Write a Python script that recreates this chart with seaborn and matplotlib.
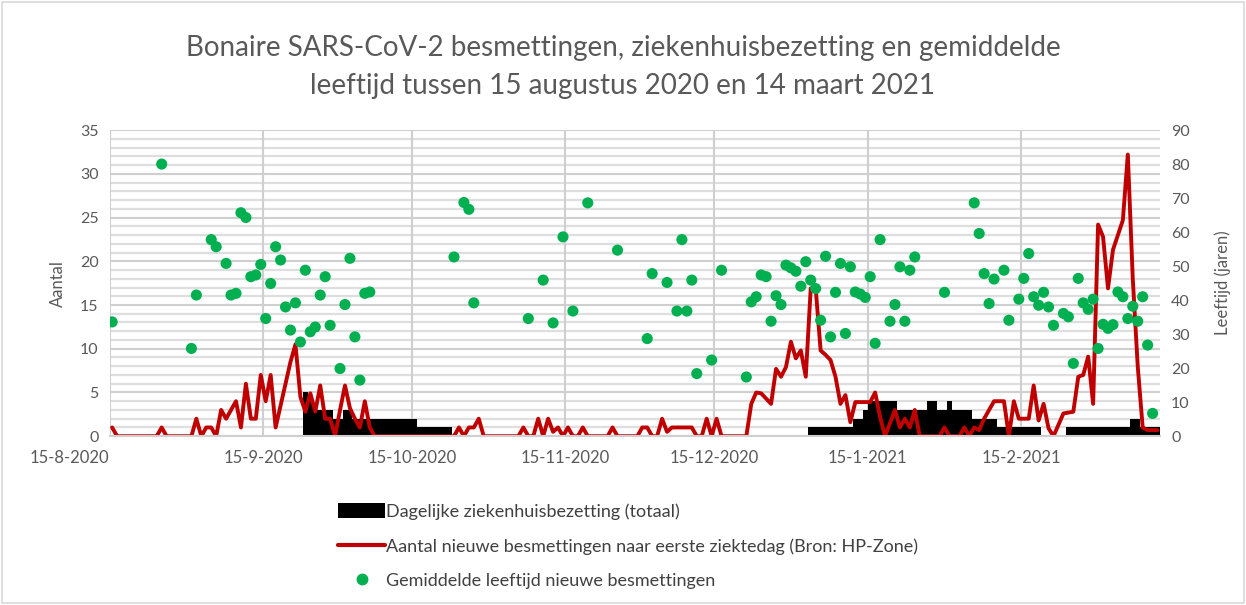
import pandas as pd
import seaborn as sns
from matplotlib import pyplot as plt
from matplotlib.lines import Line2D
from matplotlib.patches import Patch, Rectangle

# day 0 = 15-8-2020, day 211 = 14-3-2021
n_days = 212

# Aantal nieuwe besmettingen naar eerste ziektedag (per dag)
besmettingen = [
    1, 0, 0, 0, 0, 0, 0, 0, 0, 0,
    1, 0, 0, 0, 0, 0, 0, 2, 0, 1,
    1, 0, 3, 2, 3, 4, 1, 6, 2, 2,
    7, 4, 7, 1, 3.5, 6, 8.5, 10.5, 4.5, 2.8,
    4.9, 2.8, 5.8, 2, 2, 0, 3, 5.8, 3.2, 2,
    1, 4, 1, 0, 0, 0, 0, 0, 0, 0,
    0, 0, 0, 0, 0, 0, 0, 0, 0, 0,
    1, 0, 1, 1, 2, 0, 0, 0, 0, 0,
    0, 0, 0, 1, 0, 0, 2, 0, 2, 0.5,
    1, 0, 1, 0, 0, 1, 0, 0, 0, 0,
    0, 1, 0, 0, 0, 0, 0, 1, 1, 0,
    0, 2, 0.5, 1, 1, 1, 1, 1, 0, 0,
    2, 0, 2, 0, 0, 0, 0, 0, 0, 3.7,
    5, 4.9, 4.3, 3.7, 7.7, 6.8, 7.9, 10.8, 8.9, 9.8,
    6.8, 16.9, 16.9, 9.8, 9.3, 8.7, 6.8, 3.7, 4.7, 1.6,
    3.9, 3.9, 3.9, 3.9, 5, 2.2, 0, 1.5, 3, 1,
    2, 1, 3, 0, 0, 0, 0, 0, 1, 0,
    0, 0, 1, 0, 1, 0.7, 2, 3, 4, 4,
    4, 0, 4, 2, 2, 2, 5.8, 1.8, 3.7, 0.9,
    0, 1.3, 2.6, 2.7, 2.8, 6.8, 7, 9.1, 3.7, 24.2,
    22.8, 16.9, 21.3, 23, 24.7, 32.2, 18, 8, 1, 0.7,
    0.7, 0.7,
]

# Dagelijkse ziekenhuisbezetting (totaal)
bezetting = [
    0, 0, 0, 0, 0, 0, 0, 0, 0, 0,
    0, 0, 0, 0, 0, 0, 0, 0, 0, 0,
    0, 0, 0, 0, 0, 0, 0, 0, 0, 0,
    0, 0, 0, 0, 0, 0, 0, 0, 0, 5,
    4, 3, 3, 3, 3, 2, 2, 3, 3, 2,
    2, 2, 2, 2, 2, 2, 2, 2, 2, 2,
    2, 2, 1, 1, 1, 1, 1, 1, 1, 0,
    0, 0, 0, 0, 0, 0, 0, 0, 0, 0,
    0, 0, 0, 0, 0, 0, 0, 0, 0, 0,
    0, 0, 0, 0, 0, 0, 0, 0, 0, 0,
    0, 0, 0, 0, 0, 0, 0, 0, 0, 0,
    0, 0, 0, 0, 0, 0, 0, 0, 0, 0,
    0, 0, 0, 0, 0, 0, 0, 0, 0, 0,
    0, 0, 0, 0, 0, 0, 0, 0, 0, 0,
    0, 1, 1, 1, 1, 1, 1, 1, 1, 1,
    2, 2, 3, 4, 4, 4, 4, 4, 4, 3,
    3, 3, 3, 3, 3, 4, 4, 3, 3, 4,
    3, 3, 3, 3, 2, 2, 2, 2, 2, 1,
    1, 1, 1, 1, 1, 1, 1, 1, 0, 0,
    0, 0, 0, 1, 1, 1, 1, 1, 1, 1,
    1, 1, 1, 1, 1, 1, 2, 2, 1, 1,
    1, 1,
]

# Gemiddelde leeftijd nieuwe besmettingen (dag, leeftijd)
leeftijd_dag = [
    0, 10, 16, 17, 20, 21, 23, 24, 25, 26, 27, 28, 29, 30, 31, 32, 33, 34,
    35, 36, 37, 38, 39, 40, 41, 42, 43, 44, 46, 47, 48, 49, 50, 51, 52,
    69, 71, 72, 73, 84, 87, 89, 91, 93, 96, 102, 108, 109, 112, 114, 115,
    116, 117, 118, 121, 123, 128, 129, 130, 131, 132, 133, 134, 135, 136,
    137, 138, 139, 140, 141, 142, 143, 144, 145, 146, 147, 148, 149, 150,
    151, 152, 153, 154, 155, 157, 158, 159, 160, 161, 162, 168, 174, 175,
    176, 177, 178, 180, 181, 183, 184, 185, 186, 187, 188, 189, 190, 192,
    193, 194, 195, 196, 197, 198, 199, 200, 201, 202, 203, 204, 205, 206,
    207, 208, 209, 210,
]
leeftijd = [
    33.6, 80, 25.8, 41.5, 57.8, 55.7, 50.8, 41.5, 42, 65.7, 64.3, 46.9, 47.4,
    50.5, 34.6, 44.9, 55.7, 51.8, 38, 31.2, 39.2, 27.7, 48.8, 30.7, 32.1,
    41.5, 46.9, 32.6, 19.9, 38.7, 52.3, 29.2, 16.5, 42, 42.4,
    52.7, 68.7, 66.7, 39.2, 34.6, 45.9, 33.3, 58.6, 36.8, 68.6, 54.7, 28.7,
    47.8, 45.2, 36.8, 57.8, 36.8, 45.9, 18.4, 22.4, 48.8, 17.4, 39.5, 41,
    47.4, 46.9, 33.8, 41.3, 38.7, 50.3, 49.5, 48.5, 44.1, 51.3, 45.9, 43.4,
    34.1, 52.9, 29.2, 42.3, 50.8, 30.2, 49.8, 42.4, 41.8, 40.8, 46.9, 27.3,
    57.8, 33.8, 38.7, 49.8, 33.8, 48.8, 52.7, 42.3, 68.6, 59.6, 47.8, 39,
    46.2, 48.8, 34.1, 40.3, 46.4, 53.7, 41, 38.5, 42.3, 38, 32.6, 36.1, 35.1,
    21.4, 46.4, 39.2, 37.3, 40.3, 25.8, 32.9, 31.7, 32.8, 42.4, 41, 34.6,
    38.2, 33.8, 41, 26.8, 6.7,
]

tick_days = [0, 31, 61, 92, 122, 153, 184]
tick_labels = ["15-8-2020", "15-9-2020", "15-10-2020", "15-11-2020",
               "15-12-2020", "15-1-2021", "15-2-2021"]

title = ("Bonaire SARS-CoV-2 besmettingen, ziekenhuisbezetting en gemiddelde\n"
         "leeftijd tussen 15 augustus 2020 en 14 maart 2021")
labels = [
    "Dagelijke ziekenhuisbezetting (totaal)",
    "Aantal nieuwe besmettingen naar eerste ziektedag (Bron: HP-Zone)",
    "Gemiddelde leeftijd nieuwe besmettingen",
]

grey = "#595959"
grid_col = "#d9d9d9"
red = "#c00000"
green = "#00b050"

sns.set_theme(style="white")
plt.rcParams["font.family"] = ["Lato", "DejaVu Sans"]

df = pd.DataFrame({"dag": range(n_days), "besmettingen": besmettingen,
                   "bezetting": bezetting})
# Excel puts each day in the middle of its slot
df["x"] = df["dag"] + 0.5
dots = pd.DataFrame({"x": [d + 0.5 for d in leeftijd_dag], "leeftijd": leeftijd})

fig = plt.figure(figsize=(12.46, 6.05), dpi=100)
ax = fig.add_axes([0.088, 0.279, 0.843, 0.506])

# light helper lines at every unit, darker ones every 5
minor_levels = [v for v in range(1, 35) if v % 5]
ax.hlines(minor_levels, 0, n_days, color="#dedede", lw=1.6, zorder=0)

sns.barplot(data=df, x="x", y="bezetting", native_scale=True, width=1,
            color="black", saturation=1, errorbar=None, linewidth=0, ax=ax)
sns.lineplot(data=df, x="x", y="besmettingen", color=red, lw=2.8, ax=ax)

ax2 = ax.twinx()
sns.scatterplot(data=dots, x="x", y="leeftijd", color=green, s=64,
                edgecolor="none", ax=ax2, zorder=3)

ax.set_xlim(0, n_days)
ax.set_ylim(0, 35)
ax2.set_ylim(0, 90)

ax.set_yticks(range(0, 36, 5))
ax2.set_yticks(range(0, 91, 10))
ax.set_xticks(tick_days)
ax.set_xticklabels(tick_labels)
ax.get_xticklabels()[0].set_horizontalalignment("right")

ax.set_axisbelow(True)
ax.grid(which="major", axis="both", color="#cfcfcf", lw=1.5)

for a in (ax, ax2):
    for s in a.spines.values():
        s.set_visible(False)
ax.spines["bottom"].set_visible(True)
ax.spines["bottom"].set_color("#cfcfcf")
ax.spines["bottom"].set_linewidth(1.5)

ax.tick_params(axis="x", length=6, width=1.5, color="#cfcfcf", labelcolor=grey,
               labelsize=12, pad=4)
ax.tick_params(axis="y", length=0, labelcolor=grey, labelsize=11.5, pad=8)
ax2.tick_params(axis="y", length=0, labelcolor=grey, labelsize=11.5, pad=8)

ax.set_xlabel("")
ax.set_ylabel("Aantal", color=grey, fontsize=12, labelpad=10)
ax2.set_ylabel("Leeftijd (jaren)", color=grey, fontsize=12, rotation=90,
               labelpad=18)

fig.text(0.5, 1 - 67 / 605, title, ha="center", va="center", fontsize=20,
         color=grey, linespacing=1.55)

handles = [
    Patch(facecolor="black", edgecolor="none"),
    Line2D([], [], color=red, lw=3),
    Line2D([], [], color=green, marker="o", ls="none", markersize=7.5),
]
fig.legend(handles, labels, loc="upper left",
           bbox_to_anchor=(329 / 1246, 1 - 494 / 605), frameon=False,
           borderpad=0, fontsize=13, handlelength=2.6, handleheight=0.9,
           handletextpad=0.05, labelspacing=1.0, labelcolor="#404040")

fig.add_artist(Rectangle((0.002, 0.003), 0.996, 0.994, transform=fig.transFigure,
                         fill=False, edgecolor=grid_col, lw=1.2))

plt.savefig("out.png", dpi=100)
